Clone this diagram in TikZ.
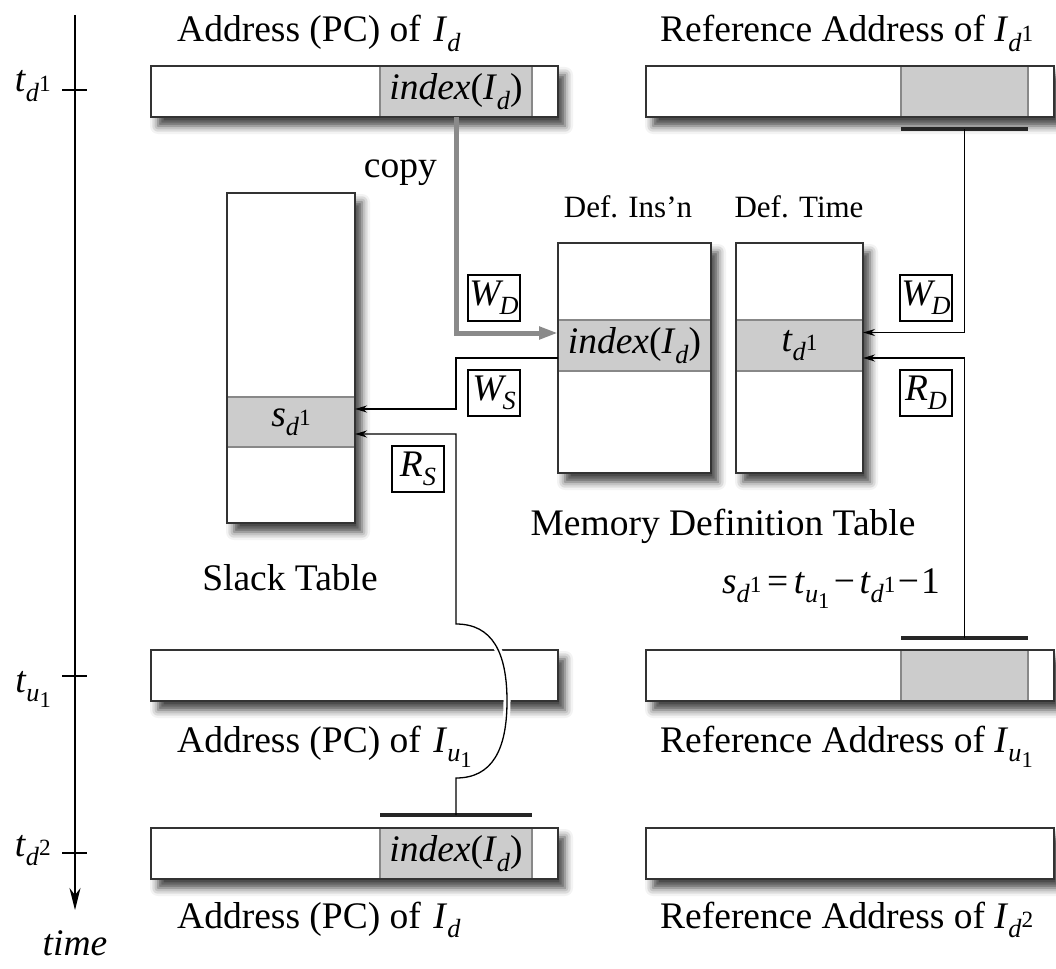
\documentclass[tikz,border=0pt]{standalone}
\usepackage{fontspec}
\setmainfont{Liberation Serif}
\usepackage{graphicx}
\usetikzlibrary{arrows.meta,shadows.blur,calc}
\definecolor{cellgray}{HTML}{CCCCCC}
\definecolor{linegray}{HTML}{888888}
\definecolor{copygray}{HTML}{8A8A8A}
\definecolor{border}{HTML}{333333}
\newcommand\mainsz{\fontsize{37.5pt}{45pt}\selectfont}
\newcommand\smallsz{\fontsize{31pt}{37pt}\selectfont}
\newcommand\lo[1]{\raisebox{-0.25em}{\scalebox{0.7}{#1}}}
\newcommand\loo[1]{\raisebox{-0.42em}{\scalebox{0.6}{#1}}}
\newcommand\hi[1]{\raisebox{0.02em}{\scalebox{0.62}{#1}}}
\newcommand\Id{\textit{I}\lo{\textit{d}}}
\newcommand\Iu{\textit{I}\lo{\textit{u}}\loo{1}}
\newcommand\Idn[1]{\textit{I}\lo{\textit{d}}\hi{#1}}
\newcommand\tdn[1]{\textit{t}\lo{\textit{d}}\hi{#1}}
\newcommand\tu{\textit{t}\lo{\textit{u}}\loo{1}}
\newcommand\sd{\textit{s}\lo{\textit{d}}\hi{1}}
\newcommand\idx{\textit{index}(\Id)}
\newcommand\opl[3]{\textit{#1}\kern#3\lo{\textit{#2}}}
\begin{document}
\begin{tikzpicture}[x=1pt,y=-1pt,
  every node/.style={font=\mainsz},
  shad/.style={blur shadow={shadow xshift=7pt, shadow yshift=-9pt, shadow blur radius=8pt, shadow opacity=75}},
  box/.style={draw=border, line width=2pt, fill=white, inner sep=0pt, outer sep=0pt, shad},
  outline/.style={draw=border, line width=2pt},
  cell/.style={fill=cellgray, draw=linegray, line width=1.2pt, inner sep=0pt, outer sep=0pt},
  conn/.style={line width=1.3pt},
  arr/.style={line width=1.3pt, -{Stealth[length=12pt,width=7pt]}},
  tbar/.style={line width=3.5pt, draw=black!85},
  copyline/.style={draw=copygray, line width=5pt, -{Triangle[length=19pt,width=12pt]}},
  op/.style={draw, line width=1.6pt, minimum width=52pt, minimum height=46pt, inner sep=0pt, fill=white},
  tick/.style={line width=1.5pt}]
\useasboundingbox (0,0) rectangle (1056,968);

% time axis
\coordinate (axtop) at (75,15);
\coordinate (axbot) at (75,910);
\draw[line width=1.5pt, -{Stealth[length=22pt,width=11pt,inset=7pt]}] (axtop) -- (axbot);
\draw[tick] (62,90) -- (87,90);
\draw[tick] (62,676) -- (87,676);
\draw[tick] (62,853) -- (87,853);
\node[anchor=base east, inner sep=0pt] (ltd1) at (51,92) {\tdn{1}};
\node[anchor=base east, inner sep=0pt] (ltu1) at (51,692) {\tu};
\node[anchor=base east, inner sep=0pt] (ltd2) at (51,856) {\tdn{2}};
\node[anchor=base, inner sep=0pt] (ltime) at (75,955) {\textit{time}};

% top row
\node[anchor=base west, inner sep=0pt] (l1L) at (177,42) {Address (PC) of\hspace{0.33em}\Id};
\node[anchor=base west, inner sep=0pt] (l1R) at (660,42) {Reference Address of \Idn{1}};
\node[box, minimum width=407pt, minimum height=51pt, anchor=north west] (b1L) at (151,66) {};
\node[cell, minimum width=152pt, minimum height=51pt, anchor=north west] (c1L) at (380,66) {\idx};
\draw[outline] (b1L.north west) rectangle (b1L.south east);
\node[box, minimum width=408pt, minimum height=51pt, anchor=north west] (b1R) at (646,66) {};
\node[cell, minimum width=127pt, minimum height=51pt, anchor=north west] (c1R) at (901,66) {};
\draw[outline] (b1R.north west) rectangle (b1R.south east);

% middle row
\node[box, minimum width=407pt, minimum height=51pt, anchor=north west] (b2L) at (151,650) {};
\node[box, minimum width=408pt, minimum height=51pt, anchor=north west] (b2R) at (646,650) {};
\node[cell, minimum width=127pt, minimum height=51pt, anchor=north west] (c2R) at (901,650) {};
\draw[outline] (b2R.north west) rectangle (b2R.south east);
\node[anchor=base west, inner sep=0pt] (l2L) at (177,752) {Address (PC) of\hspace{0.33em}\Iu};
\node[anchor=base west, inner sep=0pt] (l2R) at (660,752) {Reference Address of \Iu};

% bottom row
\node[box, minimum width=407pt, minimum height=51pt, anchor=north west] (b3L) at (151,828) {};
\node[cell, minimum width=152pt, minimum height=51pt, anchor=north west] (c3L) at (380,828) {\idx};
\draw[outline] (b3L.north west) rectangle (b3L.south east);
\node[box, minimum width=408pt, minimum height=51pt, anchor=north west] (b3R) at (646,828) {};
\node[anchor=base west, inner sep=0pt] (l3L) at (177,928) {Address (PC) of\hspace{0.33em}\Id};
\node[anchor=base west, inner sep=0pt] (l3R) at (660,928) {Reference Address of \Idn{2}};

% slack table
\node[box, minimum width=128pt, minimum height=330pt, anchor=north west] (st) at (227,193) {};
\node[cell, minimum width=128pt, minimum height=50pt, anchor=north west] (stc) at (227,397) {\sd};
\draw[outline] (st.north west) rectangle (st.south east);
\node[anchor=base, inner sep=0pt] (lst) at (290,590) {Slack Table};

% memory definition table
\node[box, minimum width=153pt, minimum height=230pt, anchor=north west] (di) at (558,243) {};
\node[cell, minimum width=153pt, minimum height=51pt, anchor=north west] (dic) at (558,320) {\idx};
\draw[outline] (di.north west) rectangle (di.south east);
\node[box, minimum width=127pt, minimum height=230pt, anchor=north west] (dt) at (736,243) {};
\node[cell, minimum width=127pt, minimum height=51pt, anchor=north west] (dtc) at (736,320) {\tdn{1}};
\draw[outline] (dt.north west) rectangle (dt.south east);
\node[anchor=base, inner sep=0pt, font=\smallsz] (ldi) at (628,218) {Def. Ins'n};
\node[anchor=base, inner sep=0pt, font=\smallsz] (ldt) at (799,218) {Def. Time};
\node[anchor=base, inner sep=0pt] (lmdt) at (723,535) {Memory Definition Table};
\node[anchor=base, inner sep=0pt] (form) at (831,593) {\sd\hspace{0.15em}=\hspace{0.15em}\tu\hspace{0.12em}−\hspace{0.12em}\tdn{1}\hspace{0.06em}−\hspace{0.06em}1};
\node[anchor=base east, inner sep=0pt] (lcopy) at (437,178) {copy};

% T-bars
\coordinate (t1) at ($(c1R.south)+(0,12)$);
\coordinate (t2) at ($(c2R.north)+(0,-12)$);
\coordinate (t3) at ($(c3L.north)+(0,-13)$);
\draw[tbar] ($(c1R.south west)+(0,12)$) -- ($(c1R.south east)+(0,12)$);
\draw[tbar] ($(c2R.north west)+(0,-12)$) -- ($(c2R.north east)+(0,-12)$);
\draw[tbar] ($(c3L.north west)+(0,-13)$) -- ($(c3L.north east)+(0,-13)$);

% copy connector
\draw[copyline] (c1L.south) |- ([yshift=12.5pt]dic.west);
% W_S connector
\coordinate (ws) at (456,380);
\draw[arr] ([yshift=-12.5pt]dic.west) -| (ws) |- ([yshift=13pt]stc.east);
% W_D, R_D connectors
\draw[arr] (t1) |- ([yshift=13pt]dtc.east);
\draw[arr] (t2) |- ([yshift=-12.5pt]dtc.east);
% R_S connector with jump
\coordinate (jb) at (456,778);
\coordinate (jt) at (456,624);
\draw[white, line width=7pt] (jb) .. controls (492,778) and (507,750) .. (507,701) .. controls (507,652) and (492,624) .. (jt);
\draw[arr] (t3) -- (jb) .. controls (492,778) and (507,750) .. (507,701) .. controls (507,652) and (492,624) .. (jt) |- ([yshift=-12pt]stc.east);

% operation labels
\node[op] (wdl) at (494,298) {\opl{W}{D}{-0.1em}};
\node[op] (wsl) at (494,393) {\opl{W}{S}{-0.1em}};
\node[op] (rsl) at (418,469) {\opl{R}{S}{0em}};
\node[op] (wdr) at (926,298) {\opl{W}{D}{-0.1em}};
\node[op] (rdr) at (926,393) {\opl{R}{D}{0em}};
\end{tikzpicture}
\end{document}
